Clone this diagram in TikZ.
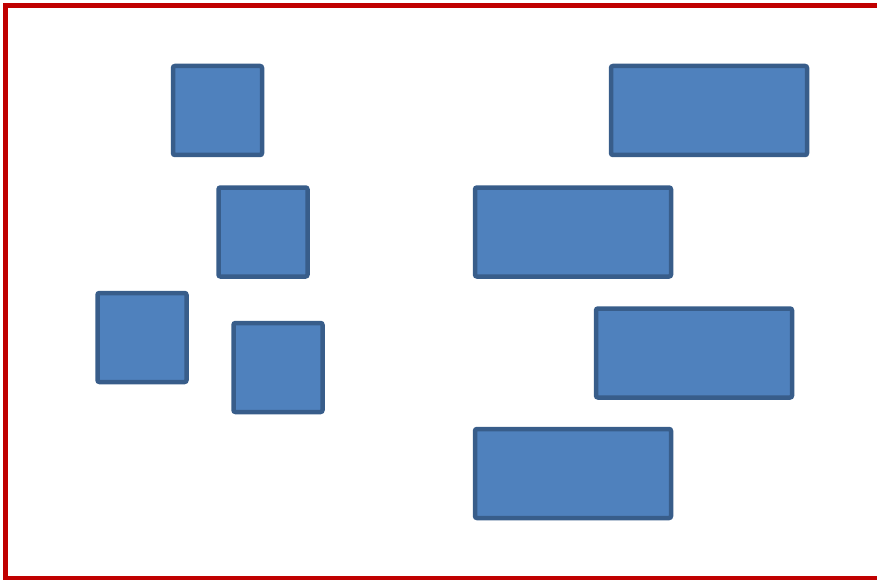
\documentclass[tikz,border=0pt]{standalone}
\usetikzlibrary{positioning}
\definecolor{boxfill}{HTML}{4F81BD}
\definecolor{boxline}{HTML}{385D8A}
\definecolor{framered}{HTML}{C00000}

\begin{document}
\begin{tikzpicture}[x=1pt, y=-1pt,
  blk/.style={draw=boxline, fill=boxfill, line width=4.5pt, rounded corners=2pt, inner sep=0pt, outer sep=0pt},
  sq/.style={blk, minimum width=89pt, minimum height=89pt},
  wide/.style={blk, minimum width=196pt, minimum height=89pt}]

\useasboundingbox (0,0) rectangle (877,580);
\draw[framered, line width=5pt] (5.5,5.5) rectangle (890,578);

% left group
\node[sq] (s1) at (217.5,110.5) {};
\node[sq] (s2) at (263,232) {};
\node[sq] (s3) at (142,337.5) {};
\node[sq] (s4) at (278,367.5) {};

% right group
\node[wide] (w1) at (709,110.5) {};
\node[wide] (w2) at (573,232) {};
\node[wide] (w3) at (694,353) {};
\node[wide] (w4) at (573,473.5) {};
\end{tikzpicture}
\end{document}
